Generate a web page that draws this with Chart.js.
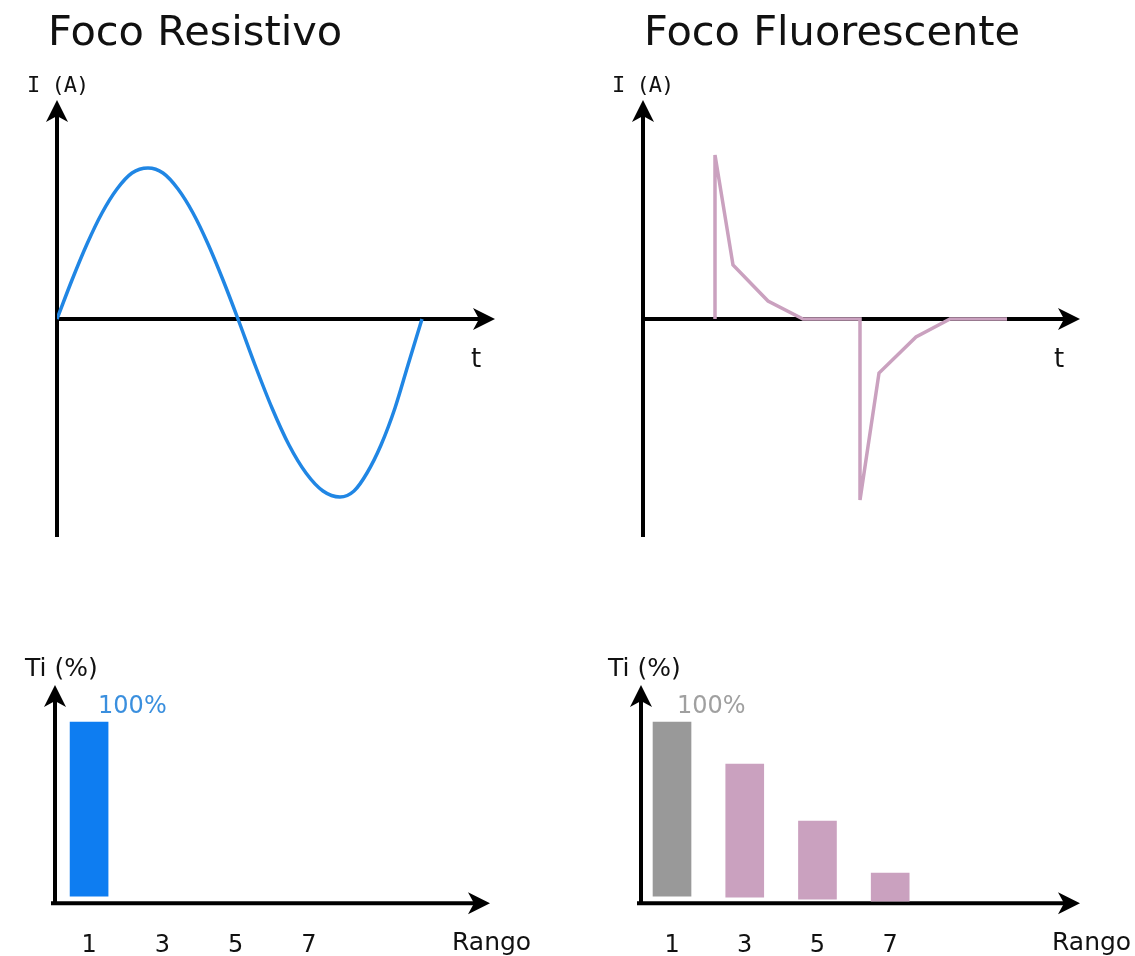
<!DOCTYPE html>
<html>
<head>
<meta charset="utf-8">
<title>Foco Resistivo / Foco Fluorescente</title>
<script src="https://cdn.jsdelivr.net/npm/chart.js@4.4.1/dist/chart.umd.min.js"></script>
<style>
  html, body { margin: 0; padding: 0; background: #fff; overflow: hidden; }
  #page { position: relative; width: 1135px; height: 956px; overflow: hidden; }
  canvas { position: absolute; }
</style>
</head>
<body>
<div id="page">
  <canvas id="chart_resistivo" width="567" height="600" style="left:0;top:0"></canvas>
  <canvas id="chart_fluorescente" width="568" height="600" style="left:567px;top:0"></canvas>
  <canvas id="bars_resistivo" width="567" height="388" style="left:0;top:600px"></canvas>
  <canvas id="bars_fluorescente" width="568" height="388" style="left:567px;top:600px"></canvas>
</div>
<script>
// current curves (t and I in the drawing's own units, I = 0 on the t axis)
const resistT = [0, 15, 30, 45, 60, 75, 91, 106, 121, 136, 151, 166, 181, 198, 215, 232, 249, 266, 283, 297, 310, 324, 338, 351, 365];
const resistI = [0, 39, 75, 106, 130, 146, 151, 146, 130, 106, 75, 39, 0, -46, -89, -126, -154, -172, -178, -172, -154, -126, -89, -46, 0];

const fluorT = [72, 72, 90, 125, 160, 217, 217, 236, 273, 307, 364];
const fluorI = [0, 164, 54, 18, 0, 0, -181, -54, -18, 0, 0];

// harmonic distortion bars (Ti %), bar bottom sits a little above the axis
const rangos = [1, 3, 5, 7];
const rangoLabels = ['1', '3', '5', '7'];
const tiResistivo = [100];
const baseResistivo = [3.9];
const tiFluorescente = [100, 76.8, 45.3, 16.6];
const baseFluorescente = [3.9, 3.3, 2.2, 1.1];

const BLUE_LINE = 'rgb(32,134,228)';
const BLUE_BAR = 'rgb(14,125,241)';
const PINK = 'rgb(202,161,191)';
const GREY = 'rgb(153,153,153)';

function drawArrow(ctx, x, y, angle) {
  ctx.save();
  ctx.translate(x, y);
  ctx.rotate(angle);
  ctx.beginPath();
  ctx.moveTo(0, 0);
  ctx.lineTo(-22, -11);
  ctx.lineTo(-16, 0);
  ctx.lineTo(-22, 11);
  ctx.closePath();
  ctx.fill();
  ctx.restore();
}

// black axes with arrow heads + the free texts of each panel
const arrowAxes = {
  id: 'arrowAxes',
  beforeDatasetsDraw(chart, args, opts) {
    const ctx = chart.ctx;
    const area = chart.chartArea;
    const y0 = chart.scales.y.getPixelForValue(0);
    ctx.save();
    ctx.strokeStyle = '#000';
    ctx.fillStyle = '#000';
    ctx.lineWidth = 4;
    ctx.beginPath();
    ctx.moveTo(area.left, Math.max(area.bottom, y0 + 2));
    ctx.lineTo(area.left, area.top + 16);
    ctx.moveTo(area.left - (opts.hLeft || 0), y0);
    ctx.lineTo(area.right - 16, y0);
    ctx.stroke();
    drawArrow(ctx, area.right, y0, 0);
    drawArrow(ctx, area.left, area.top, -Math.PI / 2);
    ctx.restore();
  },
  afterDraw(chart, args, opts) {
    const ctx = chart.ctx;
    ctx.save();
    ctx.textBaseline = 'alphabetic';
    ctx.textAlign = 'left';
    (opts.texts || []).forEach(t => {
      ctx.font = t.font;
      ctx.letterSpacing = t.spacing || '0px';
      ctx.fillStyle = t.color || '#111';
      ctx.fillText(t.text, t.x, t.y);
    });
    ctx.letterSpacing = '0px';
    if (opts.valueLabel) {
      const el = chart.getDatasetMeta(0).data[0];
      const v = opts.valueLabel;
      ctx.font = '24px "DejaVu Sans"';
      ctx.fillStyle = v.color;
      ctx.fillText(v.text, el.x + v.dx, el.y + v.dy);
    }
    ctx.restore();
  }
};

const TITLE_FONT = '41.5px "DejaVu Sans"';
const LABEL_FONT = '25px "DejaVu Sans"';
const MONO_FONT = '22px "DejaVu Sans Mono"';

function lineChart(id, xs, ys, color, smooth, pad, xMax, texts) {
  return new Chart(document.getElementById(id), {
    type: 'line',
    data: {
      datasets: [{
        data: xs.map((x, i) => ({ x: x, y: ys[i] })),
        borderColor: color,
        borderWidth: 3.5,
        pointRadius: 0,
        fill: false,
        tension: 0,
        cubicInterpolationMode: smooth ? 'monotone' : 'default'
      }]
    },
    options: {
      responsive: false,
      animation: false,
      events: [],
      layout: { padding: pad },
      plugins: {
        legend: { display: false },
        tooltip: { enabled: false },
        arrowAxes: { texts: texts }
      },
      scales: {
        x: { type: 'linear', display: false, min: 0, max: xMax },
        y: { type: 'linear', display: false, min: -218, max: 219 }
      }
    },
    plugins: [arrowAxes]
  });
}

function barChart(id, values, bases, colors, pad, xMin, xMax, texts, valueLabel) {
  return new Chart(document.getElementById(id), {
    type: 'bar',
    data: {
      datasets: [{
        data: values.map((v, i) => ({ x: rangos[i], y: [bases[i], v] })),
        backgroundColor: colors,
        borderWidth: 0,
        barThickness: 38
      }]
    },
    options: {
      responsive: false,
      animation: false,
      events: [],
      layout: { padding: pad },
      plugins: {
        legend: { display: false },
        tooltip: { enabled: false },
        arrowAxes: { texts: texts, hLeft: 4, valueLabel: valueLabel }
      },
      scales: {
        x: {
          type: 'linear',
          min: xMin,
          max: xMax,
          offset: false,
          border: { display: false },
          grid: { display: false, drawTicks: false },
          afterBuildTicks: scale => { scale.ticks = rangos.map(v => ({ value: v })); },
          ticks: {
            padding: 28,
            color: '#111',
            font: { family: 'DejaVu Sans', size: 24 },
            maxRotation: 0,
            callback: (v, i) => rangoLabels[i]
          }
        },
        y: { type: 'linear', display: false, min: 0, max: 120.4 }
      }
    },
    plugins: [arrowAxes]
  });
}

lineChart('chart_resistivo', resistT, resistI, BLUE_LINE, true,
  { left: 57, right: 72, top: 100, bottom: 63 }, 438, [
    { text: 'Foco Resistivo', x: 48, y: 45, font: TITLE_FONT },
    { text: 'I (A)', x: 27, y: 92, font: MONO_FONT, spacing: '-1px' },
    { text: 't', x: 471, y: 367, font: '26px "DejaVu Sans"' }
  ]);

lineChart('chart_fluorescente', fluorT, fluorI, PINK, false,
  { left: 76, right: 55, top: 100, bottom: 63 }, 437, [
    { text: 'Foco Fluorescente', x: 77, y: 45, font: TITLE_FONT },
    { text: 'I (A)', x: 45, y: 92, font: MONO_FONT, spacing: '-1px' },
    { text: 't', x: 487, y: 367, font: '26px "DejaVu Sans"' }
  ]);

barChart('bars_resistivo', tiResistivo, baseResistivo, [BLUE_BAR],
  { left: 55, right: 77, top: 85, bottom: 0 }, 0.07, 11.94, [
    { text: 'Ti (%)', x: 25, y: 76, font: LABEL_FONT },
    { text: 'Rango', x: 452, y: 350, font: LABEL_FONT }
  ], { text: '100%', color: 'rgb(58,143,222)', dx: 9, dy: -9 });

barChart('bars_fluorescente', tiFluorescente, baseFluorescente, [GREY, PINK, PINK, PINK],
  { left: 74, right: 55, top: 85, bottom: 0 }, 0.147, 12.22, [
    { text: 'Ti (%)', x: 41, y: 76, font: LABEL_FONT },
    { text: 'Rango', x: 485, y: 350, font: LABEL_FONT }
  ], { text: '100%', color: 'rgb(160,160,160)', dx: 5, dy: -9 });
</script>
</body>
</html>
